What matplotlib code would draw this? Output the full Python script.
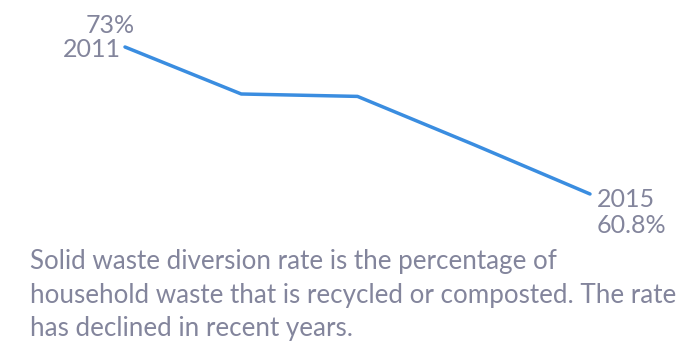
import matplotlib.pyplot as plt

years = [2011, 2012, 2013, 2014, 2015]
rates = [73.0, 69.1, 68.9, 64.9, 60.8]
start_labels = ["73%", "2011"]
end_labels = ["2015", "60.8%"]
caption_lines = ["Solid waste diversion rate is the percentage of",
                 "household waste that is recycled or composted. The rate",
                 "has declined in recent years."]

text_color = "#83859c"
line_color = "#3a8de0"

plt.rcParams["font.family"] = ["Lato", "DejaVu Sans"]

fig = plt.figure(figsize=(6.87, 3.5), dpi=100)
W, H = 687, 350
# axes box chosen so first/last points land where they sit in the picture
ax = fig.add_axes([125 / W, (H - 194) / H, (590 - 125) / W, (194 - 47) / H])
ax.plot(years, rates, color=line_color, lw=2.5, solid_capstyle="round",
        solid_joinstyle="round", clip_on=False)
ax.set_xlim(years[0], years[-1])
ax.set_ylim(rates[-1], rates[0])
ax.axis("off")

fs = 18
ax.annotate(start_labels[0], (years[0], rates[0]), xytext=(10, 21),
            textcoords="offset pixels", ha="right", va="center",
            fontsize=fs, color=text_color)
ax.annotate(start_labels[1], (years[0], rates[0]), xytext=(-4, -3),
            textcoords="offset pixels", ha="right", va="center",
            fontsize=fs, color=text_color)
ax.annotate(end_labels[0], (years[-1], rates[-1]), xytext=(7, -6),
            textcoords="offset pixels", ha="left", va="center",
            fontsize=fs, color=text_color)
ax.annotate(end_labels[1], (years[-1], rates[-1]), xytext=(7, -32),
            textcoords="offset pixels", ha="left", va="center",
            fontsize=fs, color=text_color)

baselines = [269, 303, 336]
for line, yb in zip(caption_lines, baselines):
    fig.text(30 / W, (H - yb) / H, line, ha="left", va="baseline",
             fontsize=18.7, color=text_color)

fig.savefig("out.png", dpi=100)
